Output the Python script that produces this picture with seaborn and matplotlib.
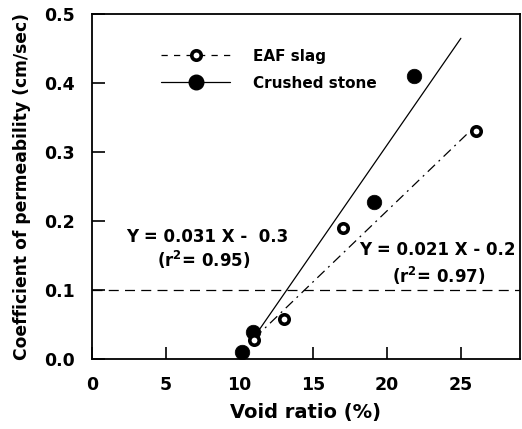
import numpy as np
import pandas as pd
import matplotlib
matplotlib.use("Agg")
import matplotlib.pyplot as plt
from matplotlib.lines import Line2D
import seaborn as sns

# ---- data ----
eaf_x = [11.0, 13.0, 17.0, 26.0]
eaf_y = [0.027, 0.058, 0.19, 0.33]
stone_x = [10.2, 10.9, 19.1, 21.8]
stone_y = [0.010, 0.039, 0.228, 0.41]
# regression lines (endpoints)
eaf_fit_x = [11.0, 25.6]
eaf_fit_y = [0.030, 0.330]
stone_fit_x = [11.0, 25.0]
stone_fit_y = [0.032, 0.465]
threshold = 0.1
x_ticks = [0, 5, 10, 15, 20, 25]
y_ticks = [0.0, 0.1, 0.2, 0.3, 0.4, 0.5]

sns.set_style("ticks")
plt.rcParams['font.family'] = ['DejaVu Sans']
plt.rcParams['font.weight'] = 'bold'
plt.rcParams['text.color'] = 'black'
plt.rcParams['axes.labelcolor'] = 'black'
plt.rcParams['xtick.color'] = 'black'
plt.rcParams['ytick.color'] = 'black'
plt.rcParams['axes.edgecolor'] = 'black'

fig = plt.figure(figsize=(5.22, 4.29), dpi=100)
ax = fig.add_axes([0.176, 0.163, 0.82, 0.804])

eaf_df = pd.DataFrame({"x": eaf_x, "y": eaf_y})
stone_df = pd.DataFrame({"x": stone_x, "y": stone_y})
eaf_fit = pd.DataFrame({"x": eaf_fit_x, "y": eaf_fit_y})
stone_fit = pd.DataFrame({"x": stone_fit_x, "y": stone_fit_y})

sns.lineplot(data=stone_fit, x="x", y="y", ax=ax, color="black", lw=0.9, sort=False)
sns.lineplot(data=eaf_fit, x="x", y="y", ax=ax, color="black", lw=0.9, sort=False)
ax.lines[-1].set_dashes((8, 4, 1.5, 4))
ax.axhline(threshold, color="black", lw=0.9, dashes=(8, 5))

sns.scatterplot(data=stone_df, x="x", y="y", ax=ax, color="black", s=110,
                edgecolor="black", linewidth=0.5, zorder=3)
sns.scatterplot(data=eaf_df, x="x", y="y", ax=ax, facecolor="white", s=46,
                edgecolor="black", linewidth=2.6, zorder=3)

ax.set_xlim(0, 29)
ax.set_ylim(0, 0.5)
ax.set_xticks(x_ticks)
ax.set_yticks(y_ticks)
ax.set_yticklabels([f"{v:.1f}" for v in y_ticks])
ax.tick_params(direction="in", length=9, width=1.2, labelsize=12.5, top=False,
               right=False, colors="black")
ax.tick_params(axis="x", pad=12)
ax.tick_params(axis="y", pad=12)
for lab in ax.get_xticklabels() + ax.get_yticklabels():
    lab.set_fontweight("bold")
for sp in ax.spines.values():
    sp.set_linewidth(1.3)
    sp.set_color("black")
    sp.set_visible(True)

ax.set_xlabel("Void ratio (%)", fontsize=14, fontweight="bold", labelpad=7)
ax.set_ylabel("Coefficient of permeability (cm/sec)", fontsize=12.3, fontweight="bold",
              labelpad=10)

ax.text(7.8, 0.177, "Y = 0.031 X -  0.3", ha="center", va="center", fontsize=12,
        fontweight="bold")
ax.text(7.6, 0.143, "(r$^{\\mathbf{2}}$= 0.95)", ha="center", va="center", fontsize=12,
        fontweight="bold")
ax.text(23.4, 0.158, "Y = 0.021 X - 0.2", ha="center", va="center", fontsize=12,
        fontweight="bold")
ax.text(23.5, 0.12, "(r$^{\\mathbf{2}}$= 0.97)", ha="center", va="center", fontsize=12,
        fontweight="bold")

handles = [
    Line2D([], [], color="black", lw=0.9, dashes=(5, 5), marker="o", markersize=6.8,
           markerfacecolor="white", markeredgewidth=2.6, markeredgecolor="black"),
    Line2D([], [], color="black", lw=0.9, marker="o", markersize=10.5,
           markerfacecolor="black", markeredgecolor="black"),
]
leg = ax.legend(handles, ["EAF slag", "Crushed stone"], loc="upper left",
                bbox_to_anchor=(0.13, 0.94), frameon=False, handlelength=4.5,
                handletextpad=1.5, labelspacing=0.8, prop={"size": 11, "weight": "bold"})

fig.savefig("out.png", dpi=100)
